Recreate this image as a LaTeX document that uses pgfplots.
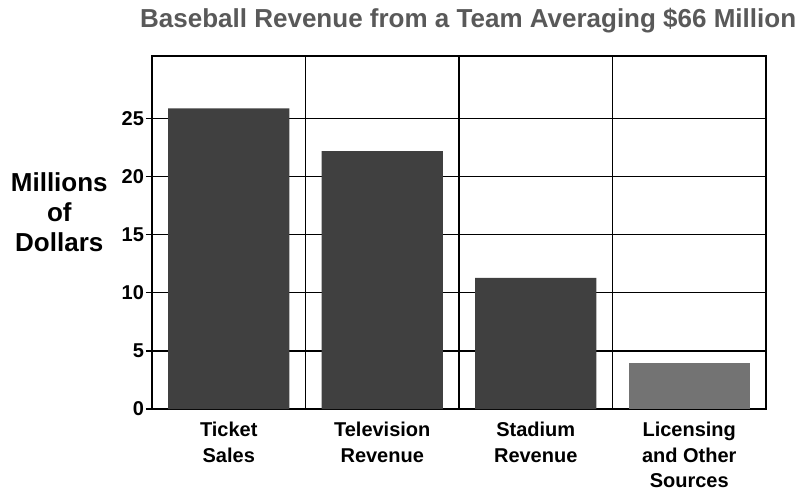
\documentclass[border=0pt]{standalone}
\usepackage{fontspec}
\setmainfont{Liberation Sans}
\usepackage{pgfplots}
\pgfplotsset{compat=1.18}
\begin{document}
\begin{tikzpicture}
\useasboundingbox (-76pt,-45pt) rectangle (328.5pt,204.5pt);
\begin{axis}[
  at={(0,0)}, anchor=south west,
  scale only axis, width=307pt, height=176.5pt,
  clip mode=individual,
  xmin=0.5, xmax=4.5, ymin=0, ymax=30.4,
  xtick={1,2,3,4},
  xticklabels={{Ticket\\Sales},{Television\\Revenue},{Stadium\\Revenue},{Licensing\\and Other\\Sources}},
  xticklabel style={align=center, font=\bfseries\fontsize{10}{12.8}\selectfont},
  major x tick style={draw=none},
  minor xtick={1.5,2.5,3.5},
  minor x tick style={draw=none},
  xminorgrids,
  ytick={0,5,10,15,20,25},
  ytick pos=left,
  ymajorgrids,
  grid style={black, line width=0.6pt},
  minor grid style={black, line width=0.6pt},
  yticklabel style={font=\bfseries\fontsize{10}{12}\selectfont, xshift=2.5pt},
  /pgf/number format/assume math mode=true,
  tick align=outside, major tick length=3pt,
  tick style={black, line width=0.6pt},
  axis line style={line width=0.8pt},
]
\addplot[ybar, bar width=0.79, fill=black!75, draw=none] coordinates {(1,25.9) (2,22.2) (3,11.3)};
\addplot[ybar, bar width=0.79, fill=black!55, draw=none] coordinates {(4,4.0)};
\node[anchor=base, font=\bfseries\fontsize{13}{15}\selectfont, text=black!65] at (axis description cs:0.515,1.082) {Baseball Revenue from a Team Averaging \$66 Million};
\node[align=center, font=\bfseries\fontsize{13}{15}\selectfont] at (axis description cs:-0.151,0.558) {Millions\\of\\Dollars};
\end{axis}
\end{tikzpicture}
\end{document}
